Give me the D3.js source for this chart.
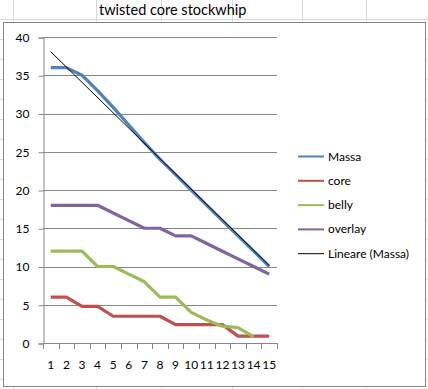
<!DOCTYPE html>
<html>
<head>
<meta charset="utf-8">
<script src="https://cdn.jsdelivr.net/npm/d3@7"></script>
<style>
  html, body { margin: 0; padding: 0; background: #fff; }
  svg { display: block; font-family: Lato, "Liberation Sans", sans-serif; }
</style>
</head>
<body>
<div id="chart"></div>
<script>
// values
const categories = [1, 2, 3, 4, 5, 6, 7, 8, 9, 10, 11, 12, 13, 14, 15];
const massa   = [36, 36, 35, 33, 30.8, 28.5, 26.2, 24, 22, 20, 18, 16, 14, 12, 10];
const core    = [6, 6, 4.8, 4.8, 3.5, 3.5, 3.5, 3.5, 2.4, 2.4, 2.4, 2.4, 0.9, 0.9, 0.9];
const belly   = [12, 12, 12, 10, 10, 9, 8, 6, 6, 4, 3, 2.2, 2, 0.8];
const overlay = [18, 18, 18, 18, 17, 16, 15, 15, 14, 14, 13, 12, 11, 10, 9];
const yTicks  = [0, 5, 10, 15, 20, 25, 30, 35, 40];
const seriesNames = ['Massa', 'core', 'belly', 'overlay'];
const trendName = 'Lineare (Massa)';
const title = 'twisted core stockwhip';

const colors = {
    Massa: '#4f81bd',
    core: '#c0504d',
    belly: '#9bbb59',
    overlay: '#8064a2'
};

const width = 428, height = 389;

const svg = d3.select('#chart')
    .append('svg')
    .attr('width', width)
    .attr('height', height);

// spreadsheet cell grid behind the chart
const grid = svg.append('g').attr('stroke', '#d9d9d9').attr('stroke-width', 1);
[13.5, 96.5, 161.5, 232.5, 302.5, 366.5].forEach(x => {
    grid.append('line').attr('x1', x).attr('x2', x).attr('y1', 0).attr('y2', height);
});
for (let y = 19.5; y < height; y += 20) {
    grid.append('line').attr('x1', 0).attr('x2', width).attr('y1', y).attr('y2', y);
}

// title sits in a cell above the chart
svg.append('text')
    .attr('x', 99)
    .attr('y', 15)
    .style('font-size', '14.5px')
    .style('fill', '#000')
    .text(title);

// chart frame
svg.append('rect')
    .attr('x', 3.5)
    .attr('y', 22.5)
    .attr('width', 422)
    .attr('height', 364)
    .attr('fill', '#fff')
    .attr('stroke', '#868686');

// plot area
const plot = { left: 43, right: 277, top: 37, bottom: 343 };

const xScale = d3.scaleBand()
    .domain(categories)
    .range([plot.left, plot.right])
    .padding(0);

const yScale = d3.scaleLinear()
    .domain([0, 40])
    .range([plot.bottom, plot.top]);

const cx = c => xScale(c) + xScale.bandwidth() / 2;

// horizontal gridlines
svg.append('g')
    .selectAll('line')
    .data(yTicks.filter(t => t > 0))
    .join('line')
    .attr('x1', plot.left)
    .attr('x2', plot.right)
    .attr('y1', d => Math.round(yScale(d)) + 0.5)
    .attr('y2', d => Math.round(yScale(d)) + 0.5)
    .attr('stroke', '#868686');

// y axis
const yAxis = d3.axisLeft(yScale)
    .tickValues(yTicks)
    .tickSize(5)
    .tickPadding(9);

const yg = svg.append('g')
    .attr('transform', `translate(${plot.left + 0.5},0.5)`)
    .call(yAxis);
yg.select('.domain').attr('stroke', '#868686');
yg.selectAll('.tick line').attr('stroke', '#868686');
yg.selectAll('.tick text')
    .style('font-size', '12px')
    .style('font-family', 'Lato, "Liberation Sans", sans-serif')
    .attr('fill', '#000');

// x axis: ticks between categories, labels centered
const xg = svg.append('g');
xg.append('line')
    .attr('x1', plot.left)
    .attr('x2', plot.right)
    .attr('y1', Math.round(yScale(0)) + 0.5)
    .attr('y2', Math.round(yScale(0)) + 0.5)
    .attr('stroke', '#868686');
const edges = categories.map(c => xScale(c)).concat([xScale(categories[categories.length - 1]) + xScale.bandwidth()]);
xg.selectAll('.xtick')
    .data(edges)
    .join('line')
    .attr('class', 'xtick')
    .attr('x1', d => Math.round(d) + 0.5)
    .attr('x2', d => Math.round(d) + 0.5)
    .attr('y1', Math.round(yScale(0)))
    .attr('y2', Math.round(yScale(0)) + 6)
    .attr('stroke', '#868686');
xg.selectAll('.xlabel')
    .data(categories)
    .join('text')
    .attr('class', 'xlabel')
    .attr('x', d => cx(d))
    .attr('y', 369)
    .attr('text-anchor', 'middle')
    .style('font-size', '12px')
    .text(d => d);

// series lines
const seriesData = { Massa: massa, core: core, belly: belly, overlay: overlay };
const line = d3.line()
    .x((d, i) => cx(categories[i]))
    .y(d => yScale(d));

seriesNames.forEach(name => {
    svg.append('path')
        .datum(seriesData[name])
        .attr('d', line)
        .attr('fill', 'none')
        .attr('stroke', colors[name])
        .attr('stroke-width', 3.2)
        .attr('stroke-linejoin', 'round');
});

// linear trendline for Massa (least squares)
const n = massa.length;
const xs = categories.slice(0, n);
const mx = d3.mean(xs), my = d3.mean(massa);
const slope = d3.sum(xs, (x, i) => (x - mx) * (massa[i] - my)) / d3.sum(xs, x => (x - mx) ** 2);
const intercept = my - slope * mx;
const trendEnds = [xs[0], xs[n - 1]];

svg.append('path')
    .datum(trendEnds)
    .attr('d', d3.line().x(c => cx(c)).y(c => yScale(intercept + slope * c)))
    .attr('fill', 'none')
    .attr('stroke', '#000')
    .attr('stroke-width', 1);

// legend
const legendItems = seriesNames.map(s => ({ name: s, color: colors[s] }))
    .concat([{ name: trendName, color: '#000' }]);

const legend = svg.append('g')
    .attr('transform', 'translate(298,156)');

const rows = legend.selectAll('g')
    .data(legendItems)
    .join('g')
    .attr('transform', (d, i) => `translate(0,${i * 24.3})`);

rows.append('line')
    .attr('x1', 0)
    .attr('x2', 26)
    .attr('y1', 0.5)
    .attr('y2', 0.5)
    .attr('stroke', d => d.color)
    .attr('stroke-width', d => d.name === trendName ? 1 : 2);

rows.append('text')
    .attr('x', 30)
    .attr('y', 4.5)
    .style('font-size', '12px')
    .text(d => d.name);
</script>
</body>
</html>
